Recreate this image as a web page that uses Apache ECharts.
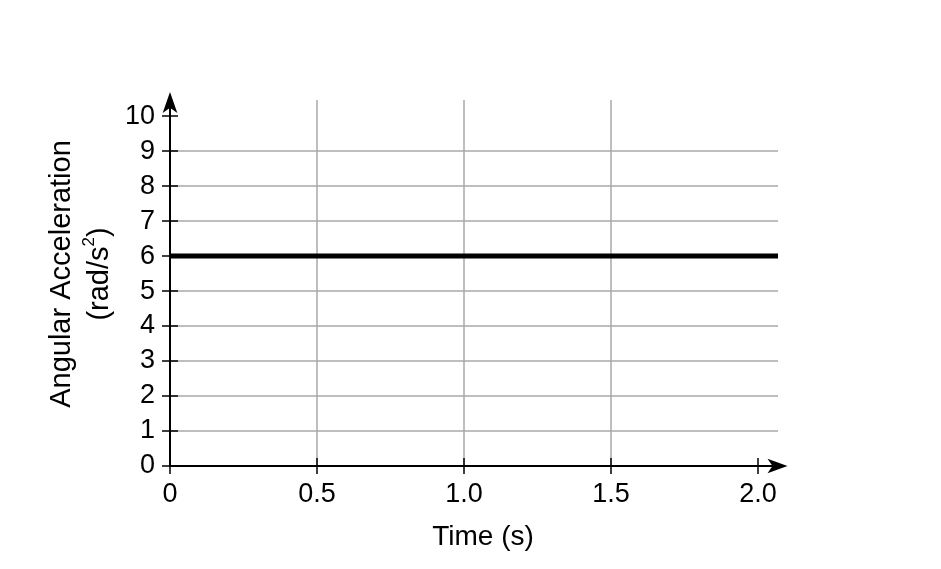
<!DOCTYPE html>
<html>
<head>
<meta charset="utf-8">
<script src="https://cdn.jsdelivr.net/npm/echarts@6/dist/echarts.min.js"></script>
<style>
  html, body { margin: 0; padding: 0; background: #ffffff; }
  #chart { width: 941px; height: 569px; }
</style>
</head>
<body>
<div id="chart"></div>
<script>
// ---- data ----
const timeValues = [0, 2.068];          // s (line spans the plotted range)
const accelValues = [6, 6];             // rad/s^2
const xTicks = [0, 0.5, 1.0, 1.5, 2.0];
const yTicks = [0, 1, 2, 3, 4, 5, 6, 7, 8, 9, 10];
const xMax = 2.068;
const yMax = 10.46;
const xTitle = 'Time (s)';
const yTitleLine1 = 'Angular Acceleration';
const yTitleLine2a = '(rad/s';
const yTitleSup = '2';
const yTitleLine2b = ')';

const FONT = '"Liberation Sans", Arial, Helvetica, sans-serif';
const chart = echarts.init(document.getElementById('chart'), null, { renderer: 'canvas' });

const seriesData = timeValues.map((t, i) => [t, accelValues[i]]);

const option = {
  animation: false,
  backgroundColor: '#ffffff',
  grid: { left: 170, right: 163, top: 100, bottom: 103, containLabel: false },
  xAxis: [
    {
      type: 'value', gridIndex: 0, position: 'bottom',
      min: 0, max: xMax,
      axisLine: {
        show: true, onZero: false,
        symbol: ['none', 'arrow'], symbolSize: [11, 20], symbolOffset: [0, 9.5],
        lineStyle: { color: '#000', width: 2 }
      },
      axisTick: { show: true, inside: false, length: 8, customValues: xTicks,
        lineStyle: { color: '#000', width: 1.5 } },
      axisLabel: { show: true, customValues: xTicks, margin: 15,
        formatter: v => (v === 0 ? '0' : v.toFixed(1)),
        color: '#000', fontSize: 27, fontFamily: FONT },
      splitLine: { show: true, showMinLine: false, showMaxLine: false,
        lineStyle: { color: '#a8a8a8', width: 1.5 } },
      name: xTitle, nameLocation: 'middle', nameGap: 57,
      nameTextStyle: { color: '#000', fontSize: 28, fontFamily: FONT, padding: [0, 0, 0, 18] }
    },
    {
      type: 'value', gridIndex: 0, position: 'bottom',
      min: 0, max: xMax,
      axisLine: { show: false, onZero: false },
      axisTick: { show: true, inside: true, length: 8, customValues: xTicks,
        lineStyle: { color: '#000', width: 1.5 } },
      axisLabel: { show: false },
      splitLine: { show: false }
    }
  ],
  yAxis: [
    {
      type: 'value', gridIndex: 0, position: 'left',
      min: 0, max: yMax,
      axisLine: {
        show: true, onZero: false,
        symbol: ['none', 'arrow'], symbolSize: [11, 21], symbolOffset: [0, 8],
        lineStyle: { color: '#000', width: 2 }
      },
      axisTick: { show: true, inside: false, length: 8, customValues: yTicks,
        lineStyle: { color: '#000', width: 1.5 } },
      axisLabel: { show: true, customValues: yTicks, margin: 15,
        color: '#000', fontSize: 27, fontFamily: FONT },
      splitLine: { show: true, showMinLine: false, showMaxLine: false,
        lineStyle: { color: '#a8a8a8', width: 1.5 } },
      name: '{a|' + yTitleLine1 + '}\n{a|' + yTitleLine2a + '}{sup|' + yTitleSup + '}{a|' + yTitleLine2b + '}',
      nameLocation: 'middle', nameGap: 48,
      nameTextStyle: {
        color: '#000', fontFamily: FONT, padding: [0, 0, 0, 18],
        rich: {
          a: { fontSize: 29, lineHeight: 38, color: '#000', fontFamily: FONT },
          sup: { fontSize: 17, lineHeight: 12, verticalAlign: 'top', color: '#000', fontFamily: FONT }
        }
      }
    },
    {
      type: 'value', gridIndex: 0, position: 'left',
      min: 0, max: yMax,
      axisLine: { show: false, onZero: false },
      axisTick: { show: true, inside: true, length: 8, customValues: yTicks,
        lineStyle: { color: '#000', width: 1.5 } },
      axisLabel: { show: false },
      splitLine: { show: false }
    }
  ],
  series: [
    {
      type: 'line', xAxisIndex: 0, yAxisIndex: 0,
      data: seriesData,
      showSymbol: false, symbol: 'none',
      lineStyle: { color: '#000', width: 5 },
      z: 5
    }
  ]
};
chart.setOption(option);
</script>
</body>
</html>
